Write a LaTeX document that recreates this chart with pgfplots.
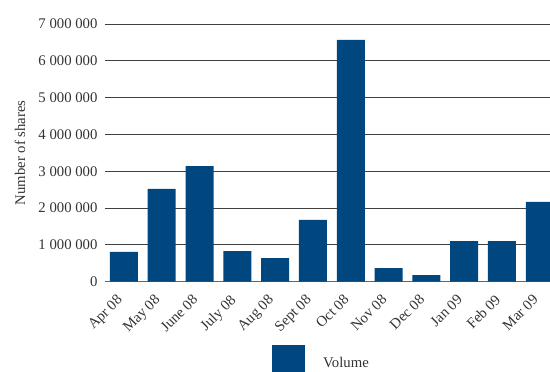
\documentclass[border=0pt]{standalone}
\usepackage{fontspec}
\setmainfont{Liberation Serif}
\usepackage{pgfplots}
\pgfplotsset{compat=1.18}
\definecolor{barblue}{HTML}{00467F}
\definecolor{txt}{HTML}{333333}

\begin{document}
\begin{tikzpicture}
\begin{axis}[
  scale only axis,
  width=445bp, height=257.7bp,
  xmin=-0.5, xmax=11.27,
  ymin=0, ymax=7000000,
  ytick={0,1000000,...,7000000},
  scaled y ticks=false,
  /pgf/number format/.cd, fixed, 1000 sep={~}, assume math mode=true,
  /pgfplots/.cd,
  xtick=data,
  xticklabels={Apr 08,May 08,June 08,July 08,Aug 08,Sept 08,Oct 08,Nov 08,Dec 08,Jan 09,Feb 09,Mar 09},
  major tick length=0pt,
  axis lines*=left,
  y axis line style={draw=none},
  x axis line style={black!60, line width=1bp},
  ymajorgrids,
  grid style={black!75, line width=0.9bp},
  tick label style={font=\fontsize{14.8}{16}\selectfont, text=txt},
  yticklabel style={xshift=-4bp},
  xticklabel style={xshift=-8bp, yshift=-7bp, rotate=45, anchor=north east},
  ylabel={Number of shares},
  every axis y label/.style={at={(axis description cs:0,0.5)}, xshift=-85bp, rotate=90, anchor=center, font=\fontsize{14.8}{16}\selectfont, text=txt},
  ybar, bar width=28bp,
  legend style={at={(axis description cs:0.3753,-0.3155)}, anchor=west, draw=none, fill=none, inner sep=0pt, font=\fontsize{14.8}{16}\selectfont, text=txt, nodes={inner sep=0pt}},
  legend image code/.code={\fill[barblue] (0bp,-18bp) rectangle (33bp,18bp); \path (51bp,0bp);},
]
\addplot[fill=barblue, draw=none] coordinates {
  (0,810000) (1,2520000) (2,3140000) (3,830000) (4,640000) (5,1680000)
  (6,6570000) (7,370000) (8,180000) (9,1100000) (10,1100000) (11,2170000)
};
\addlegendentry{Volume}
\end{axis}
\pgfresetboundingbox
\path[use as bounding box] (-105bp,-90.3bp) rectangle (445bp,281.7bp);
\end{tikzpicture}
\end{document}
